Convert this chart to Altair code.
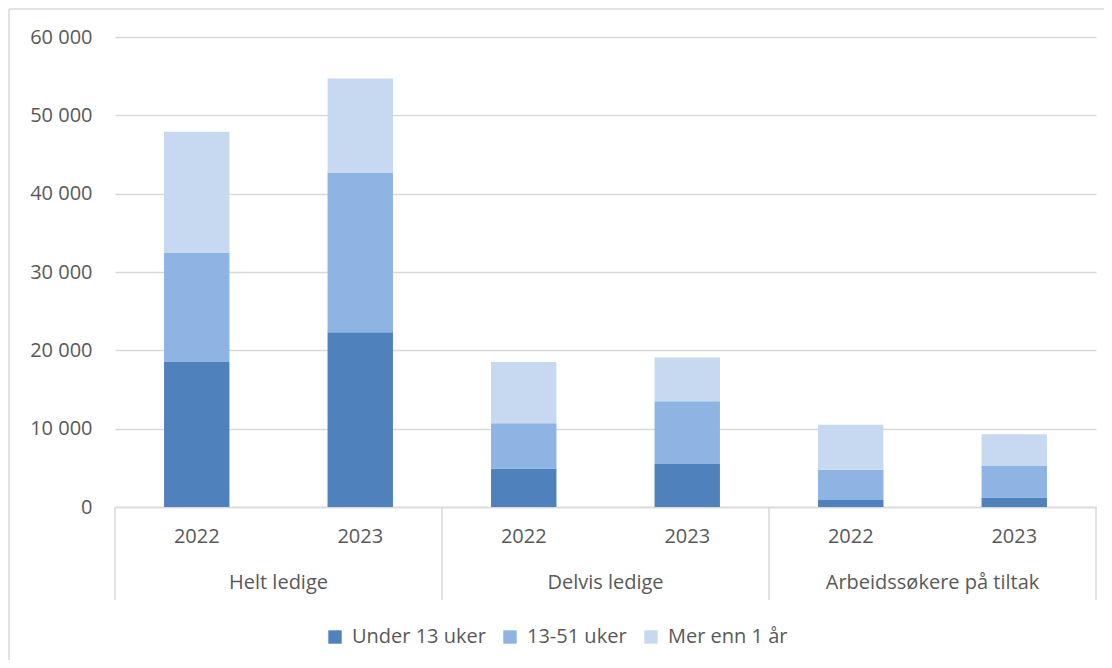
import altair as alt
import pandas as pd

groups = ["Helt ledige", "Delvis ledige", "Arbeidssøkere på tiltak"]
years = ["2022", "2023"]
series = ["Under 13 uker", "13-51 uker", "Mer enn 1 år"]
under_13 = [18500, 22300, 4900, 5500, 900, 1200]
uker_13_51 = [14000, 20400, 5800, 8000, 3850, 4100]
over_1_year = [15400, 12000, 7800, 5600, 5750, 4000]
colors = ["#4F81BD", "#8EB4E3", "#C6D9F1"]
y_ticks = [0, 10000, 20000, 30000, 40000, 50000, 60000]

FONT = "Open Sans"
TXT = "#595959"
GRID = "#D9D9D9"
W, H = 981, 470

keys = []
rows = []
vals = [under_13, uker_13_51, over_1_year]
i = 0
for g in groups:
    for yr in years:
        k = f"{g} {yr}"
        keys.append(k)
        for si, s in enumerate(series):
            rows.append({"key": k, "group": g, "series": s, "order": si, "value": vals[si][i]})
        i += 1
df = pd.DataFrame(rows)
gdf = pd.DataFrame({"group": groups})

bars = alt.Chart(df).mark_bar().encode(
    x=alt.X("key:N", sort=keys,
            scale=alt.Scale(paddingInner=0.6, paddingOuter=0.3),
            axis=alt.Axis(title=None, labelExpr="slice(datum.label, -4)", labelAngle=0,
                          ticks=False, domainColor=GRID, domainWidth=1.5, labelPadding=19,
                          labelFontSize=20, labelColor=TXT, labelFont=FONT, grid=False)),
    y=alt.Y("value:Q", stack="zero", scale=alt.Scale(domain=[0, 60000]),
            axis=alt.Axis(values=y_ticks, title=None,
                          labelExpr="replace(format(datum.value, ','), ',', ' ')",
                          domain=False, ticks=False, labelPadding=23, gridColor=GRID,
                          gridWidth=1.5, labelFontSize=20, labelColor=TXT, labelFont=FONT)),
    color=alt.Color("series:N", scale=alt.Scale(domain=series, range=colors),
                    legend=alt.Legend(title=None, orient="none", legendX=210, legendY=590,
                                      direction="horizontal", symbolType="square",
                                      symbolSize=180, symbolStrokeWidth=0,
                                      labelFontSize=20, labelColor=TXT, labelFont=FONT,
                                      columnPadding=14, labelOffset=7)),
    order=alt.Order("order:Q"),
)

gscale = alt.Scale(type="band", domain=groups, paddingInner=0, paddingOuter=0)

group_text = alt.Chart(gdf).mark_text(fontSize=20, color=TXT, font=FONT, baseline="middle").encode(
    x=alt.X("group:N", scale=gscale, axis=None),
    y=alt.value(546),
    text="group:N",
)

seps_left = alt.Chart(gdf).mark_rule(color=GRID, strokeWidth=1.5).encode(
    x=alt.X("group:N", scale=gscale, axis=None, bandPosition=0),
    y=alt.value(470), y2=alt.value(563),
)
seps_right = alt.Chart(gdf.tail(1)).mark_rule(color=GRID, strokeWidth=1.5).encode(
    x=alt.X("group:N", scale=gscale, axis=None, bandPosition=1),
    y=alt.value(470), y2=alt.value(563),
)

one = pd.DataFrame({"a": [0]})
border_left = alt.Chart(one).mark_rule(color=GRID, strokeWidth=1.5).encode(
    x=alt.value(-106), y=alt.value(-28), y2=alt.value(623)
)
border_top = alt.Chart(one).mark_rule(color=GRID, strokeWidth=1.5).encode(
    x=alt.value(-106), x2=alt.value(W + 8), y=alt.value(-28)
)

chart = alt.layer(bars, group_text, seps_left, seps_right, border_left, border_top).resolve_scale(
    x="independent"
).properties(
    width=W, height=H,
    background="white",
    autosize=alt.AutoSizeParams(type="none"),
    padding={"left": 107, "top": 29, "right": 8, "bottom": 153},
).configure_view(strokeWidth=0, stroke=None)

chart.save("out.html", embed_options={"renderer": "svg", "actions": False})
